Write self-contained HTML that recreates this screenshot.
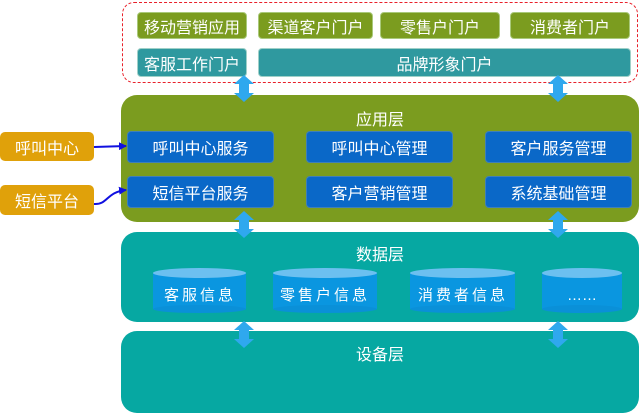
<!DOCTYPE html>
<html><head><meta charset="utf-8"><style>
body{margin:0;width:640px;height:413px;background:#fff;position:relative;overflow:hidden;font-family:"Liberation Sans","Noto Sans CJK SC",sans-serif;}
.a{position:absolute;box-sizing:border-box;display:flex;align-items:center;justify-content:center;color:#fff;}
.g{background:#7b9c1f;border:1px solid #a9c97a;border-radius:4px;font-size:16px;}
.t{background:#2f999f;border:1px solid #9fd0c8;border-radius:4px;font-size:16px;}
.b{background:#0a68c8;border:1px solid #3f7fb8;border-radius:4px;font-size:16px;}
.o{background:#e0a10a;border-radius:5px;font-size:16px;}
.L{position:absolute;left:121px;width:518px;border-radius:16px;}
.h{position:absolute;left:121px;width:518px;text-align:center;color:#fff;font-size:16px;}
</style></head><body>
<div style="position:absolute;left:122px;top:2px;width:516px;height:81px;border:1.5px dashed #e8202a;border-radius:12px;box-sizing:border-box"></div>
<div class="a g" style="left:137px;top:12px;width:110px;height:27px">移动营销应用</div>
<div class="a g" style="left:258px;top:12px;width:115px;height:27px">渠道客户门户</div>
<div class="a g" style="left:380px;top:12px;width:120px;height:27px">零售户门户</div>
<div class="a g" style="left:510px;top:12px;width:120px;height:27px">消费者门户</div>
<div class="a t" style="left:137px;top:48px;width:110px;height:29px">客服工作门户</div>
<div class="a t" style="left:258px;top:48px;width:373px;height:29px">品牌形象门户</div>

<div class="L" style="top:95px;height:127px;background:#7b9c1f"></div>
<div class="h" style="top:106px">应用层</div>
<div class="a b" style="left:127px;top:131px;width:147px;height:32px">呼叫中心服务</div>
<div class="a b" style="left:306px;top:131px;width:147px;height:32px">呼叫中心管理</div>
<div class="a b" style="left:485px;top:131px;width:147px;height:32px">客户服务管理</div>
<div class="a b" style="left:127px;top:176px;width:147px;height:32px">短信平台服务</div>
<div class="a b" style="left:306px;top:176px;width:147px;height:32px">客户营销管理</div>
<div class="a b" style="left:485px;top:176px;width:147px;height:32px">系统基础管理</div>

<div class="a o" style="left:0;top:132px;width:94px;height:29px">呼叫中心</div>
<div class="a o" style="left:0;top:185px;width:94px;height:30px">短信平台</div>

<div class="L" style="top:232px;height:90px;background:#06a8a2"></div>
<div class="h" style="top:241px">数据层</div>
<div class="L" style="top:331px;height:82px;background:#06a8a2"></div>
<div class="h" style="top:341px">设备层</div>

<svg width="640" height="413" style="position:absolute;left:0;top:0">
<defs><marker id="m" markerWidth="8" markerHeight="8" refX="7" refY="4" orient="auto" markerUnits="userSpaceOnUse"><path d="M0,0 L8,4 L0,8z" fill="#1010e0"/></marker></defs>
<path d="M94,147 L126,146" stroke="#1010e0" stroke-width="2" fill="none" marker-end="url(#m)"/>
<path d="M94,204 C108,205 106,192 126,190" stroke="#1010e0" stroke-width="2" fill="none" marker-end="url(#m)"/>
<g fill="#2fa8ee">
<path id="ar" d="M0,0 L-10,9 L-5,9 L-5,18 L-10,18 L0,27 L10,18 L5,18 L5,9 L10,9z" transform="translate(244,75)"/>
<use href="#ar" x="314" y="0"/>
<use href="#ar" x="0" y="136"/>
<use href="#ar" x="314" y="136"/>
<use href="#ar" x="0" y="246"/>
<use href="#ar" x="314" y="246"/>
</g>
<g font-size="15" fill="#fff" text-anchor="middle" font-family="Liberation Sans,Noto Sans CJK SC,sans-serif" letter-spacing="3">
<rect x="153" y="273" width="93" height="36" fill="#0a96e0"/><ellipse cx="199.5" cy="309" rx="46.5" ry="4" fill="#0a90d8"/><ellipse cx="199.5" cy="273" rx="46.5" ry="5" fill="#6cc0f0"/><text x="200" y="300">客服信息</text>
<rect x="273" y="273" width="104" height="36" fill="#0a96e0"/><ellipse cx="325" cy="309" rx="52" ry="4" fill="#0a90d8"/><ellipse cx="325" cy="273" rx="52" ry="5" fill="#6cc0f0"/><text x="325" y="300">零售户信息</text>
<rect x="410" y="273" width="105" height="36" fill="#0a96e0"/><ellipse cx="462.5" cy="309" rx="52.5" ry="4" fill="#0a90d8"/><ellipse cx="462.5" cy="273" rx="52.5" ry="5" fill="#6cc0f0"/><text x="463" y="300">消费者信息</text>
<rect x="542" y="273" width="80" height="36" fill="#0a96e0"/><ellipse cx="582" cy="309" rx="40" ry="4" fill="#0a90d8"/><ellipse cx="582" cy="273" rx="40" ry="5" fill="#6cc0f0"/><text x="582" y="300" letter-spacing="0">……</text>
</g>
</svg>
</body></html>
